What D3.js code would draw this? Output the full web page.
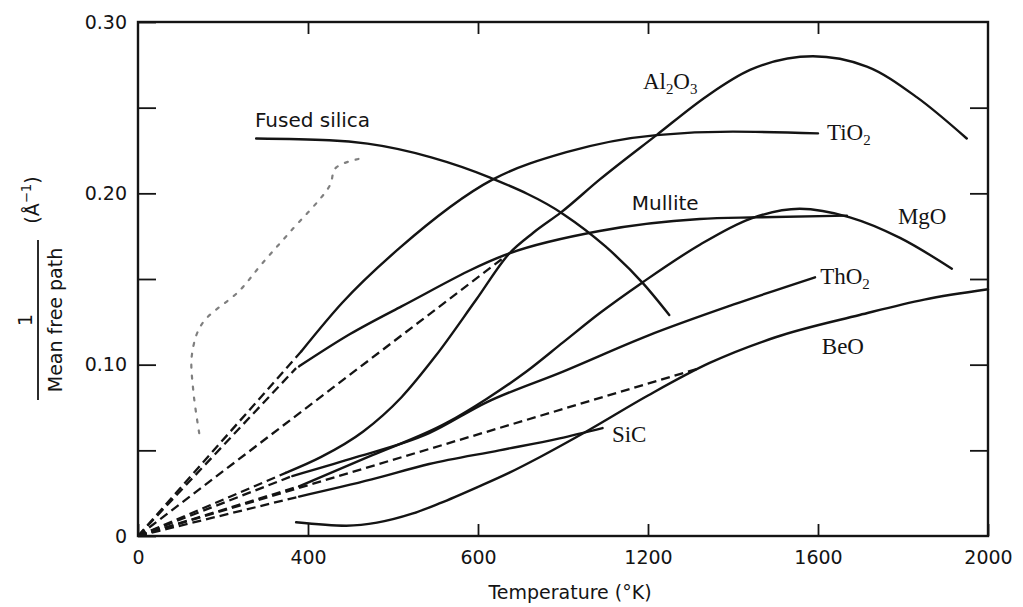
<!DOCTYPE html>
<html>
<head>
<meta charset="utf-8">
<script src="https://cdn.jsdelivr.net/npm/d3@7"></script>
<style>
  body { margin: 0; background: #fff; }
  svg { display: block; background: #fff; }
</style>
</head>
<body>
<svg width="1023" height="607"></svg>
<script>
// Axis ticks and labels (the "600" label is printed that way in the source figure).
var xTicks = [0, 400, 800, 1200, 1600, 2000];
var xTickLabels = ["0", "400", "600", "1200", "1600", "2000"];
var yTicks = [0, 0.05, 0.10, 0.15, 0.20, 0.25, 0.30];
var yTickLabels = ["0", "", "0.10", "", "0.20", "", "0.30"];

// [temperature K, 1/mean free path (1/Å)].
var fusedSilica = [[278, 0.232], [450, 0.231], [540, 0.229], [690, 0.221], [830, 0.209], [1000, 0.188], [1100, 0.169], [1190, 0.147], [1250, 0.129]];

var tio2Dash = [[0, 0], [385, 0.108]];
var tio2 = [[385, 0.108], [480, 0.136], [615, 0.168], [834, 0.208], [1008, 0.224], [1220, 0.234], [1400, 0.236], [1600, 0.235]];

var al2o3Dash = [[0, 0], [349, 0.037]];
var al2o3LongDash = [[0, 0], [874, 0.165]];
var al2o3 = [[349, 0.037], [430, 0.046], [530, 0.061], [620, 0.081], [700, 0.105], [796, 0.138], [874, 0.165], [930, 0.177], [996, 0.189], [1086, 0.208], [1220, 0.234], [1340, 0.257], [1440, 0.272], [1588, 0.280], [1715, 0.274], [1833, 0.256], [1950, 0.232]];

var mulliteDash = [[0, 0], [372, 0.098]];
var mullite = [[379, 0.099], [500, 0.118], [620, 0.134], [874, 0.165], [1086, 0.178], [1322, 0.185], [1456, 0.186], [1668, 0.187]];

var mgoDash = [[0, 0], [379, 0.029]];
var mgo = [[379, 0.029], [550, 0.047], [726, 0.066], [820, 0.080], [914, 0.096], [1000, 0.113], [1086, 0.130], [1187, 0.148], [1322, 0.170], [1439, 0.185], [1557, 0.191], [1675, 0.186], [1793, 0.174], [1915, 0.156]];

var tho2Dash = [[0, 0], [363, 0.035]];
var tho2 = [[363, 0.035], [500, 0.045], [685, 0.060], [820, 0.078], [1000, 0.096], [1200, 0.117], [1400, 0.135], [1593, 0.151]];

var sicDash = [[0, 0], [379, 0.023]];
var sic = [[379, 0.023], [550, 0.033], [685, 0.042], [850, 0.050], [992, 0.057], [1093, 0.063]];

var beoDash = [[0, 0], [1322, 0.098]];
var beo = [[372, 0.008], [490, 0.006], [645, 0.013], [709, 0.019], [803, 0.029], [874, 0.037], [945, 0.046], [1055, 0.061], [1200, 0.082], [1345, 0.101], [1500, 0.116], [1698, 0.129], [1850, 0.138], [2000, 0.144]];

// faint dotted trace left of the curves (scan ghost)
var ghost = [[144, 0.060], [130, 0.085], [127, 0.106], [151, 0.124], [238, 0.143], [292, 0.159], [356, 0.177], [450, 0.204], [466, 0.215], [537, 0.221]];

// Curve labels: text, subscripts, anchor [T, value], font kind
var curveLabels = [
  {parts: [["Fused silica", 0]], at: [275, 0.2387], serif: false},
  {parts: [["Al", 0], ["2", 1], ["O", 0], ["3", 1]], at: [1188, 0.261], serif: true},
  {parts: [["TiO", 0], ["2", 1]], at: [1621, 0.231], serif: true},
  {parts: [["Mullite", 0]], at: [1162, 0.190], serif: false},
  {parts: [["MgO", 0]], at: [1788, 0.182], serif: true},
  {parts: [["ThO", 0], ["2", 1]], at: [1605, 0.147], serif: true},
  {parts: [["BeO", 0]], at: [1609, 0.106], serif: true},
  {parts: [["SiC", 0]], at: [1115, 0.055], serif: true}
];

var solidSeries = [fusedSilica, tio2, al2o3, mullite, mgo, tho2, sic, beo];
var dashedSeries = [tio2Dash, al2o3Dash, al2o3LongDash, mulliteDash, mgoDash, tho2Dash, sicDash, beoDash];

var svg = d3.select("svg");
var ink = "#141414";
var sans = "'DejaVu Sans', sans-serif";
var serif = "'Liberation Serif', 'DejaVu Serif', serif";

var x = d3.scaleLinear().domain([0, 2000]).range([138, 988]);
var y = d3.scaleLinear().domain([0, 0.30]).range([536, 22]);

// Axes, ticks pointing inward on all four sides.
function styleAxis(g) {
  g.select(".domain").remove();
  g.selectAll(".tick line").attr("stroke", ink).attr("stroke-width", 1.8);
  g.selectAll("text").attr("fill", ink).attr("font-family", sans).attr("font-size", 19);
}

svg.append("g")
    .attr("transform", "translate(0," + y(0) + ")")
    .call(d3.axisBottom(x).tickValues(xTicks)
      .tickFormat(function(d, i) { return xTickLabels[i]; })
      .tickSizeInner(-12).tickSizeOuter(0).tickPadding(15))
    .call(styleAxis);

svg.append("g")
    .attr("transform", "translate(0," + y(0.30) + ")")
    .call(d3.axisTop(x).tickValues(xTicks.slice(1, -1))
      .tickFormat("").tickSizeInner(-12).tickSizeOuter(0))
    .call(styleAxis);

svg.append("g")
    .attr("transform", "translate(" + x(0) + ",0)")
    .call(d3.axisLeft(y).tickValues(yTicks)
      .tickFormat(function(d, i) { return yTickLabels[i]; })
      .tickSizeInner(-18).tickSizeOuter(0).tickPadding(11))
    .call(styleAxis);

svg.append("g")
    .attr("transform", "translate(" + x(2000) + ",0)")
    .call(d3.axisRight(y).tickValues(yTicks.slice(1, -1))
      .tickFormat("").tickSizeInner(-18).tickSizeOuter(0))
    .call(styleAxis);

// frame
svg.append("rect")
    .attr("x", x(0)).attr("y", y(0.30))
    .attr("width", x(2000) - x(0)).attr("height", y(0) - y(0.30))
    .attr("fill", "none").attr("stroke", ink).attr("stroke-width", 2.4);

var plot = svg.append("g");

var smooth = d3.line()
    .x(function(d) { return x(d[0]); })
    .y(function(d) { return y(d[1]); })
    .curve(d3.curveMonotoneX);

var straight = d3.line()
    .x(function(d) { return x(d[0]); })
    .y(function(d) { return y(d[1]); });

plot.append("path")
    .datum(ghost)
    .attr("d", d3.line()
      .x(function(d) { return x(d[0]); })
      .y(function(d) { return y(d[1]); })
      .curve(d3.curveCatmullRom.alpha(0.5)))
    .attr("fill", "none")
    .attr("stroke", "#3a3a3a")
    .attr("stroke-opacity", 0.65)
    .attr("stroke-width", 2.2)
    .attr("stroke-dasharray", "3,8")
    .attr("stroke-linecap", "round");

plot.selectAll(".dashed")
    .data(dashedSeries)
    .enter().append("path")
    .attr("class", "dashed")
    .attr("d", straight)
    .attr("fill", "none")
    .attr("stroke", ink)
    .attr("stroke-width", 2.3)
    .attr("stroke-dasharray", "9,5");

plot.selectAll(".solid")
    .data(solidSeries)
    .enter().append("path")
    .attr("class", "solid")
    .attr("d", smooth)
    .attr("fill", "none")
    .attr("stroke", ink)
    .attr("stroke-width", 2.4)
    .attr("stroke-linecap", "round");

// curve labels
curveLabels.forEach(function(l) {
  var t = plot.append("text")
      .attr("x", x(l.at[0]))
      .attr("y", y(l.at[1]))
      .attr("fill", ink)
      .attr("font-family", l.serif ? serif : sans)
      .attr("font-size", l.serif ? 23 : 20);
  var low = false;
  l.parts.forEach(function(p) {
    var s = t.append("tspan").text(p[0]);
    if (p[1] && !low) { s.attr("dy", 5).attr("font-size", "0.65em"); low = true; }
    else if (p[1]) { s.attr("font-size", "0.65em"); }
    else if (low) { s.attr("dy", -5); low = false; }
  });
});

// x axis title
svg.append("text")
    .attr("x", 570).attr("y", 599)
    .attr("text-anchor", "middle")
    .attr("fill", ink)
    .attr("font-family", sans)
    .attr("font-size", 19)
    .text("Temperature (°K)");

// y axis title: 1 / Mean free path (Å⁻¹), rotated
var yl = svg.append("g")
    .attr("transform", "translate(38,320) rotate(-90)")
    .attr("fill", ink)
    .attr("font-family", sans)
    .attr("font-size", 19);

yl.append("line")
    .attr("x1", -80).attr("x2", 80)
    .attr("stroke", ink).attr("stroke-width", 1.8);

yl.append("text")
    .attr("x", 0).attr("y", -6)
    .attr("text-anchor", "middle")
    .text("1");

yl.append("text")
    .attr("x", 0).attr("y", 24)
    .attr("text-anchor", "middle")
    .text("Mean free path");

var unit = yl.append("text")
    .attr("x", 120).attr("y", 1)
    .attr("text-anchor", "middle");
unit.append("tspan").text("(Å");
unit.append("tspan").attr("dy", -8).attr("font-size", "0.7em").text("−1");
unit.append("tspan").attr("dy", 8).text(")");
</script>
</body>
</html>
